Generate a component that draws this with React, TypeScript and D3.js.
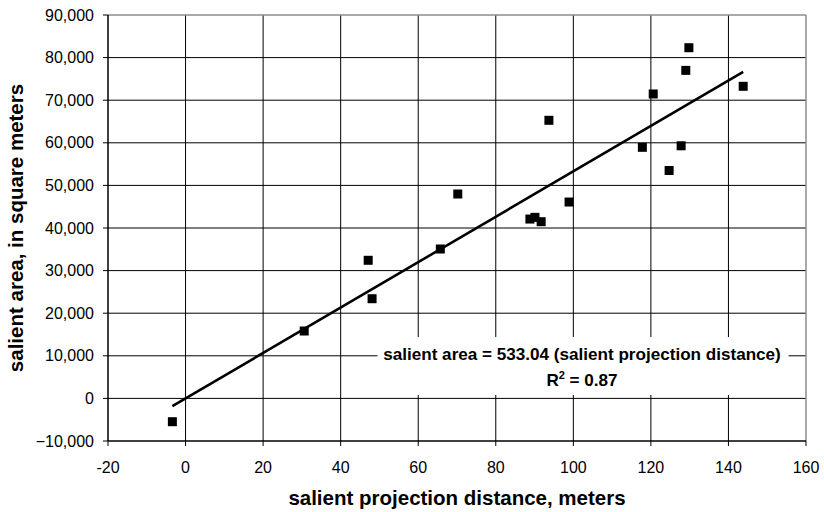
import React from 'react';
import * as d3 from 'd3';

// constants
const width = 824;
const height = 512;
const margin = { top: 15, right: 18, bottom: 71, left: 108 };
const innerW = width - margin.left - margin.right;
const innerH = height - margin.top - margin.bottom;

// data
const distance = [-3.4, 30.6, 47.1, 48.1, 65.7, 70.2, 88.8, 90.1, 91.7, 93.7, 98.9, 117.8, 120.6, 124.7, 127.8, 129.0, 129.8, 143.8];
const area = [-5470, 15820, 32420, 23400, 35070, 47980, 42100, 42500, 41480, 65280, 46100, 58940, 71460, 53500, 59300, 77000, 82320, 73260];
const xTicks = [-20, 0, 20, 40, 60, 80, 100, 120, 140, 160];
const yTicks = [-10000, 0, 10000, 20000, 30000, 40000, 50000, 60000, 70000, 80000, 90000];
const slope = 533.04;
const rSquared = 0.87;

const font = '"Liberation Sans", Arial, sans-serif';
const fmt = d3.format(',');

const App = () => {
  const x = d3.scaleLinear().domain([-20, 160]).range([0, innerW]);
  const y = d3.scaleLinear().domain([-10000, 90000]).range([innerH, 0]);

  // trend line through the origin, across the data range
  const [xMin, xMax] = d3.extent(distance) as [number, number];
  const trend = d3.line<number>().x(d => x(d)).y(d => y(d * slope));

  const boxX = x(49.5);
  const boxW = x(155.5) - boxX;
  const boxY = y(14400);
  const boxH = y(800) - boxY;
  const boxCx = boxX + boxW / 2 - 1;

  return (
    <svg width={width} height={height} style={{ position: 'absolute', left: 0, top: 0, background: '#fff' }} fontFamily={font}>
      <g transform={`translate(${margin.left},${margin.top})`}>
        {/* grid */}
        {xTicks.slice(1, -1).map(t => (
          <line key={'gx' + t} x1={x(t)} x2={x(t)} y1={0} y2={innerH} stroke="#000" strokeWidth={1} />
        ))}
        {yTicks.slice(1, -1).map(t => (
          <line key={'gy' + t} x1={0} x2={innerW} y1={y(t)} y2={y(t)} stroke="#000" strokeWidth={1} />
        ))}
        {/* plot border */}
        <line x1={0} x2={innerW} y1={0} y2={0} stroke="#8c8c8c" strokeWidth={1.5} />
        <line x1={innerW} x2={innerW} y1={0} y2={innerH} stroke="#8c8c8c" strokeWidth={1.5} />

        {/* trend line */}
        <path d={trend([xMin, xMax]) || ''} fill="none" stroke="#000" strokeWidth={2.6} />

        {/* points */}
        {distance.map((d, i) => (
          <rect key={i} x={x(d) - 4.5} y={y(area[i]) - 4.5} width={9} height={9} fill="#000" />
        ))}

        {/* axes */}
        <line x1={0} x2={0} y1={0} y2={innerH} stroke="#000" strokeWidth={1.5} />
        <line x1={0} x2={innerW} y1={innerH} y2={innerH} stroke="#000" strokeWidth={1.5} />
        {yTicks.map(t => (
          <g key={'ty' + t} transform={`translate(0,${y(t)})`}>
            <line x1={-5} x2={0} stroke="#000" />
            <text x={-14} dy="0.35em" textAnchor="end" fontSize={16} fill="#000">{fmt(t)}</text>
          </g>
        ))}
        {xTicks.map(t => (
          <g key={'tx' + t} transform={`translate(${x(t)},${innerH})`}>
            <line y1={0} y2={5} stroke="#000" />
            <text y={26} dy="0.35em" textAnchor="middle" fontSize={16} fill="#000">{t}</text>
          </g>
        ))}

        {/* equation label */}
        <rect x={boxX} y={boxY} width={boxW} height={boxH} fill="#fff" />
        <text x={boxCx} y={boxY + 23} textAnchor="middle" fontSize={17.1} fontWeight="bold" fill="#000">
          salient area = 533.04 (salient projection distance)
        </text>
        <text x={boxCx} y={boxY + 49} textAnchor="middle" fontSize={17.1} fontWeight="bold" fill="#000">
          R<tspan dy={-7} fontSize={11}>2</tspan><tspan dy={7}> = {rSquared.toFixed(2)}</tspan>
        </text>
      </g>

      {/* axis titles */}
      <text x={margin.left + innerW / 2} y={505} textAnchor="middle" fontSize={20.5} fontWeight="bold" fill="#000">
        salient projection distance, meters
      </text>
      <text transform={`translate(23,${margin.top + innerH / 2}) rotate(-90)`} textAnchor="middle" fontSize={20.5} fontWeight="bold" fill="#000">
        salient area, in square meters
      </text>
    </svg>
  );
};

export default App;
